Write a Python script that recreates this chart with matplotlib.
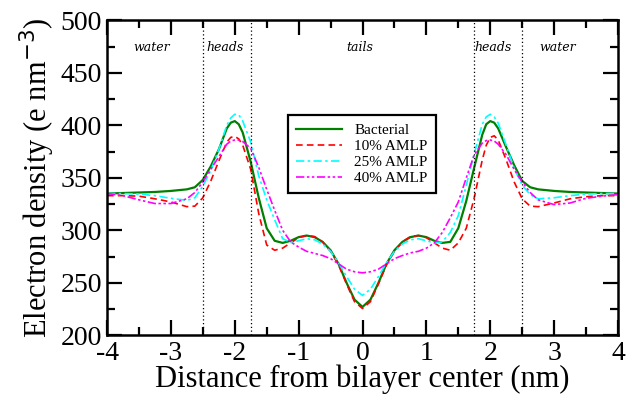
import numpy as np
import matplotlib
matplotlib.use("Agg")
import matplotlib.pyplot as plt
from matplotlib.ticker import MultipleLocator

plt.rcParams['font.family'] = ['Liberation Serif', 'DejaVu Serif']
plt.rcParams['axes.unicode_minus'] = False

# distance from bilayer center (nm)
x_nm = [-4, -3.75, -3.5, -3.25, -3, -2.75, -2.625, -2.5, -2.375, -2.25, -2.125,
        -2.0625, -2, -1.9375, -1.875, -1.75, -1.625, -1.5, -1.375, -1.25, -1.125,
        -1, -0.875, -0.75, -0.625, -0.5, -0.375, -0.25, -0.125, 0,
        0.125, 0.25, 0.375, 0.5, 0.625, 0.75, 0.875, 1, 1.125, 1.25, 1.375, 1.5,
        1.625, 1.75, 1.875, 1.9375, 2, 2.0625, 2.125, 2.25, 2.375, 2.5, 2.625,
        2.75, 3, 3.25, 3.5, 3.75, 4]

# electron density (e nm^-3)
bacterial = [335, 335.5, 336, 336.5, 337.5, 339, 341, 348, 361, 377, 397,
             402.5, 404, 401, 393, 365, 331, 302, 290, 288, 290,
             293.5, 295, 293.5, 289, 281, 268, 250, 234, 227,
             234, 250, 268, 281, 289, 293.5, 295, 293.5, 290, 288, 289, 302,
             328, 360, 391, 401, 404, 402.5, 397, 379, 362, 347, 341,
             339, 337.5, 336.5, 336, 335.5, 335]
amlp10 = [333, 333, 332.5, 330, 327, 322.5, 323, 331, 347, 366, 384,
          388.5, 389.5, 387, 381, 358, 316, 286, 281, 283, 288,
          293, 295, 294, 289, 280, 267, 249, 232, 225.5,
          232, 249, 267, 280, 289, 294, 295, 293, 288, 283, 281, 288,
          302, 331, 367, 381, 388.5, 390, 386, 367, 346, 330, 323,
          322.5, 326, 330, 332, 333, 333]
amlp25 = [335, 335, 334.5, 333, 330.5, 328.5, 331, 342, 357, 377, 400,
          407, 410.5, 410, 404, 384, 352, 329, 310, 292, 288.5,
          290, 292, 291, 287, 280, 269, 256, 244, 238,
          244, 256, 269, 280, 287, 291, 292, 290, 288, 289, 298, 314,
          343, 373, 401, 408, 410.5, 408, 402, 381, 359, 343, 334,
          330, 331, 333, 334.5, 335, 335]
amlp40 = [335, 333, 329, 325.5, 325.5, 330, 336, 346, 358, 370, 382,
          385, 386, 386, 384.5, 378, 360, 339, 319, 300, 289,
          284, 280, 278, 276, 273, 268, 263, 260.5, 259.5,
          260.5, 263, 268, 273, 276, 278.5, 280, 283, 288, 298, 312, 327,
          350, 372, 383, 385.5, 386, 385, 382, 372, 358, 346, 336,
          329, 324.5, 326, 330.5, 332.5, 334]

# region boundaries and labels
bounds = [-2.5, -1.75, 1.75, 2.5]
region_names = ['water', 'heads', 'tails', 'heads', 'water']
region_x = [-3.3, -2.15, -0.05, 2.05, 3.05]

fig = plt.figure(figsize=(6.27, 3.96), dpi=100)
ax = fig.add_axes([0.1707, 0.1533, 0.8149, 0.7954])

ax.plot(x_nm, bacterial, color='#008000', lw=1.6, label='Bacterial')
ax.plot(x_nm, amlp10, color='#ff0000', lw=1.2, linestyle=(0, (4, 2.5)), label='10% AMLP')
ax.plot(x_nm, amlp25, color='#00ffff', lw=1.2, linestyle=(0, (5, 2, 1.5, 2)), label='25% AMLP')
ax.plot(x_nm, amlp40, color='#ff00ff', lw=1.2, linestyle=(0, (5, 1.5, 1.5, 1.5, 1.5, 1.5)), label='40% AMLP')

for b in bounds:
    ax.axvline(b, color='black', lw=0.9, linestyle=(0, (1, 2)))

for name, xp in zip(region_names, region_x):
    ax.text(xp, 474, name, style='italic', fontsize=9, ha='center', va='center',
            family=['DejaVu Serif'])

ax.set_xlim(-4, 4)
ax.set_ylim(200, 500)
ax.xaxis.set_major_locator(MultipleLocator(1))
ax.xaxis.set_minor_locator(MultipleLocator(0.5))
ax.yaxis.set_major_locator(MultipleLocator(50))
ax.yaxis.set_minor_locator(MultipleLocator(25))
ax.tick_params(which='both', direction='in', top=True, right=True, width=1.6,
               labelsize=20)
ax.tick_params(which='major', length=11)
ax.tick_params(which='minor', length=5.5)
ax.tick_params(axis='x', pad=4)
for s in ax.spines.values():
    s.set_linewidth(1.8)

ax.set_xlabel('Distance from bilayer center (nm)', fontsize=22, labelpad=-1)
ax.set_ylabel('Electron density (e nm$^{-3}$)', fontsize=22, labelpad=3)

leg = ax.legend(loc='upper left', bbox_to_anchor=(0.354, 0.70), fontsize=11,
                fancybox=False, framealpha=1, edgecolor='black', handlelength=3.0,
                borderpad=0.55, labelspacing=0.15, borderaxespad=0)
leg.get_frame().set_linewidth(1.6)

fig.savefig('out.png', dpi=100)
